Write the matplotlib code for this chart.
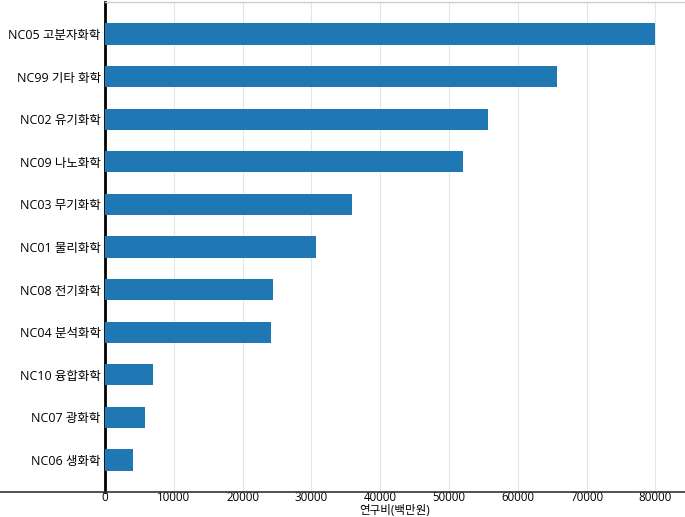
import matplotlib
matplotlib.use("Agg")
import matplotlib.pyplot as plt
from matplotlib.lines import Line2D

plt.rcParams['font.family'] = ['Open Sans', 'Noto Sans CJK KR', 'DejaVu Sans']

categories = ["NC05 고분자화학", "NC99 기타 화학", "NC02 유기화학", "NC09 나노화학",
              "NC03 무기화학", "NC01 물리화학", "NC08 전기화학", "NC04 분석화학",
              "NC10 융합화학", "NC07 광화학", "NC06 생화학"]
values = [80000, 65700, 55700, 52100, 35900, 30700, 24450, 24100, 6980, 5870, 4120]
xticks = [0, 10000, 20000, 30000, 40000, 50000, 60000, 70000, 80000]

fig = plt.figure(figsize=(6.85, 5.17), dpi=100)
W, H = 685, 517
left, right, top, bottom = 105, 685, 2, 492
ax = fig.add_axes([left / W, 1 - bottom / H, (right - left) / W, (bottom - top) / H])

pos = list(range(len(categories)))
ax.barh(pos, values, height=0.5, color='#1f77b4', zorder=3)
ax.set_yticks(pos)
ax.set_yticklabels(categories, fontsize=9)
ax.set_ylim(len(categories) - 0.25, -0.75)
ax.set_xlim(0, 84300)
ax.set_xticks(xticks)
ax.set_xticklabels([str(t) for t in xticks], fontsize=8.3)
ax.tick_params(axis='y', length=0, pad=3)
ax.tick_params(axis='x', length=0, pad=-1)
ax.grid(axis='x', color='#e6e6e6', linewidth=0.8, zorder=0)
ax.set_axisbelow(True)

ax.spines['left'].set_color('black')
ax.spines['left'].set_linewidth(2)
ax.spines['top'].set_color('#cccccc')
ax.spines['top'].set_linewidth(1)
ax.spines['right'].set_visible(False)
ax.spines['bottom'].set_visible(False)

yb = 1 - bottom / H
fig.add_artist(Line2D([0, 1], [yb, yb], transform=fig.transFigure, color='#333333', linewidth=1.2))

ax.set_xlabel("연구비(백만원)", fontsize=8.3, va='bottom')
ax.xaxis.set_label_coords(0.5, (492 - 517.5) / 490)

fig.savefig("out.png", dpi=100)
